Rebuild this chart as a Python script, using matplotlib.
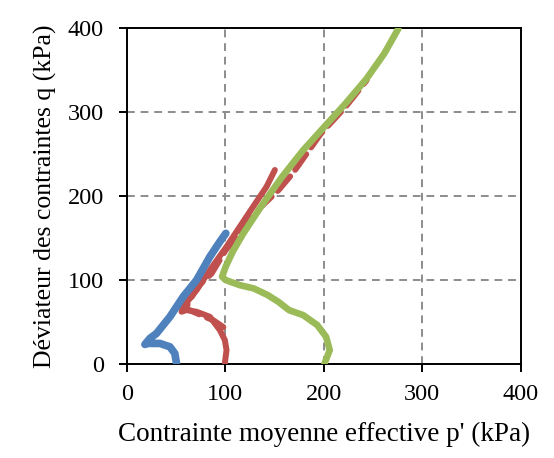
# p'-q stress paths (three tests) - rebuilt from the figure
import matplotlib
matplotlib.use("Agg")
import matplotlib.pyplot as plt

# blue test, p0 = 50 kPa
blue_p = [50.4, 48.7, 43.7, 33.5, 21.6, 18.3, 23.4, 30.1, 43.7, 57.2, 70.8, 84.3, 94.4, 100.5]
blue_q = [0.8, 12.7, 20.6, 24.6, 24.6, 23.4, 30.6, 36.5, 56.3, 80.2, 100.0, 127.8, 145.6, 155.6]

# red test, p0 = 100 kPa (solid)
red_p = [99.5, 101.2, 99.5, 94.4, 84.3, 70.8, 60.6, 55.5, 57.2, 70.8, 84.3, 101.2, 114.7, 128.2, 141.8, 150.3]
red_q = [0.8, 16.7, 28.6, 40.5, 56.3, 62.3, 64.3, 62.3, 68.2, 88.0, 112.0, 139.7, 163.5, 187.3, 211.0, 231.0]

# red test, dashed branch
red2_p = [98.0, 88.0, 72.0, 60.0, 62.0, 71.6, 86.0, 100.3, 118.2, 136.0, 154.0, 168.3, 182.6, 197.0, 222.0, 243.5]
red2_q = [44.0, 52.0, 60.0, 66.0, 72.0, 92.0, 107.8, 135.6, 159.4, 187.0, 207.0, 226.8, 250.5, 274.3, 306.0, 337.8]

# green test, p0 = 200 kPa
green_p = [200.5, 206.0, 202.3, 193.4, 179.0, 164.7, 154.0, 143.2, 129.0, 114.6, 100.3, 96.7,
           100.3, 107.4, 118.2, 136.0, 157.6, 179.0, 200.5, 222.0, 243.5, 261.4, 275.7]
green_q = [0.0, 16.6, 32.5, 46.4, 58.3, 64.2, 74.0, 82.0, 90.0, 94.0, 100.0, 104.0,
           115.8, 133.6, 155.4, 187.0, 222.8, 254.5, 282.3, 310.0, 339.7, 369.5, 399.2]

ticks = [0, 100, 200, 300, 400]

plt.rcParams["font.family"] = ["Liberation Serif", "DejaVu Serif"]

fig = plt.figure(figsize=(5.54, 4.58), dpi=100)
ax = fig.add_axes([0.229, 0.205, 0.711, 0.734])

ax.plot(red_p, red_q, color="#C0504D", lw=4.3, solid_capstyle="round", solid_joinstyle="round", zorder=3)
ax.plot(red2_p, red2_q, color="#C0504D", lw=4.3, ls=(0, (3.2, 1.4)),
        dash_capstyle="round", zorder=3)
ax.plot(green_p, green_q, color="#9BBB59", lw=4.8, solid_capstyle="round", solid_joinstyle="round", zorder=4)
ax.plot(blue_p, blue_q, color="#4F81BD", lw=5.5, solid_capstyle="round", solid_joinstyle="round", zorder=5)

ax.set_xlim(0, 400)
ax.set_ylim(0, 400)
ax.set_xticks(ticks)
ax.set_yticks(ticks)
ax.grid(True, color="#8c8c8c", lw=1.4, ls=(0, (4, 3)))
ax.set_axisbelow(True)
for s in ax.spines.values():
    s.set_linewidth(1.4)
    s.set_color("black")
ax.tick_params(direction="out", length=5.5, width=1.4, labelsize=17.5)
ax.tick_params(axis="y", pad=11)
ax.tick_params(axis="x", pad=9)

ax.set_xlabel("Contrainte moyenne effective p' (kPa)", fontsize=19.5, labelpad=12)
ax.set_ylabel("Déviateur des contraintes q (kPa)", fontsize=18.5, labelpad=8)

fig.savefig("out.png", dpi=100)
